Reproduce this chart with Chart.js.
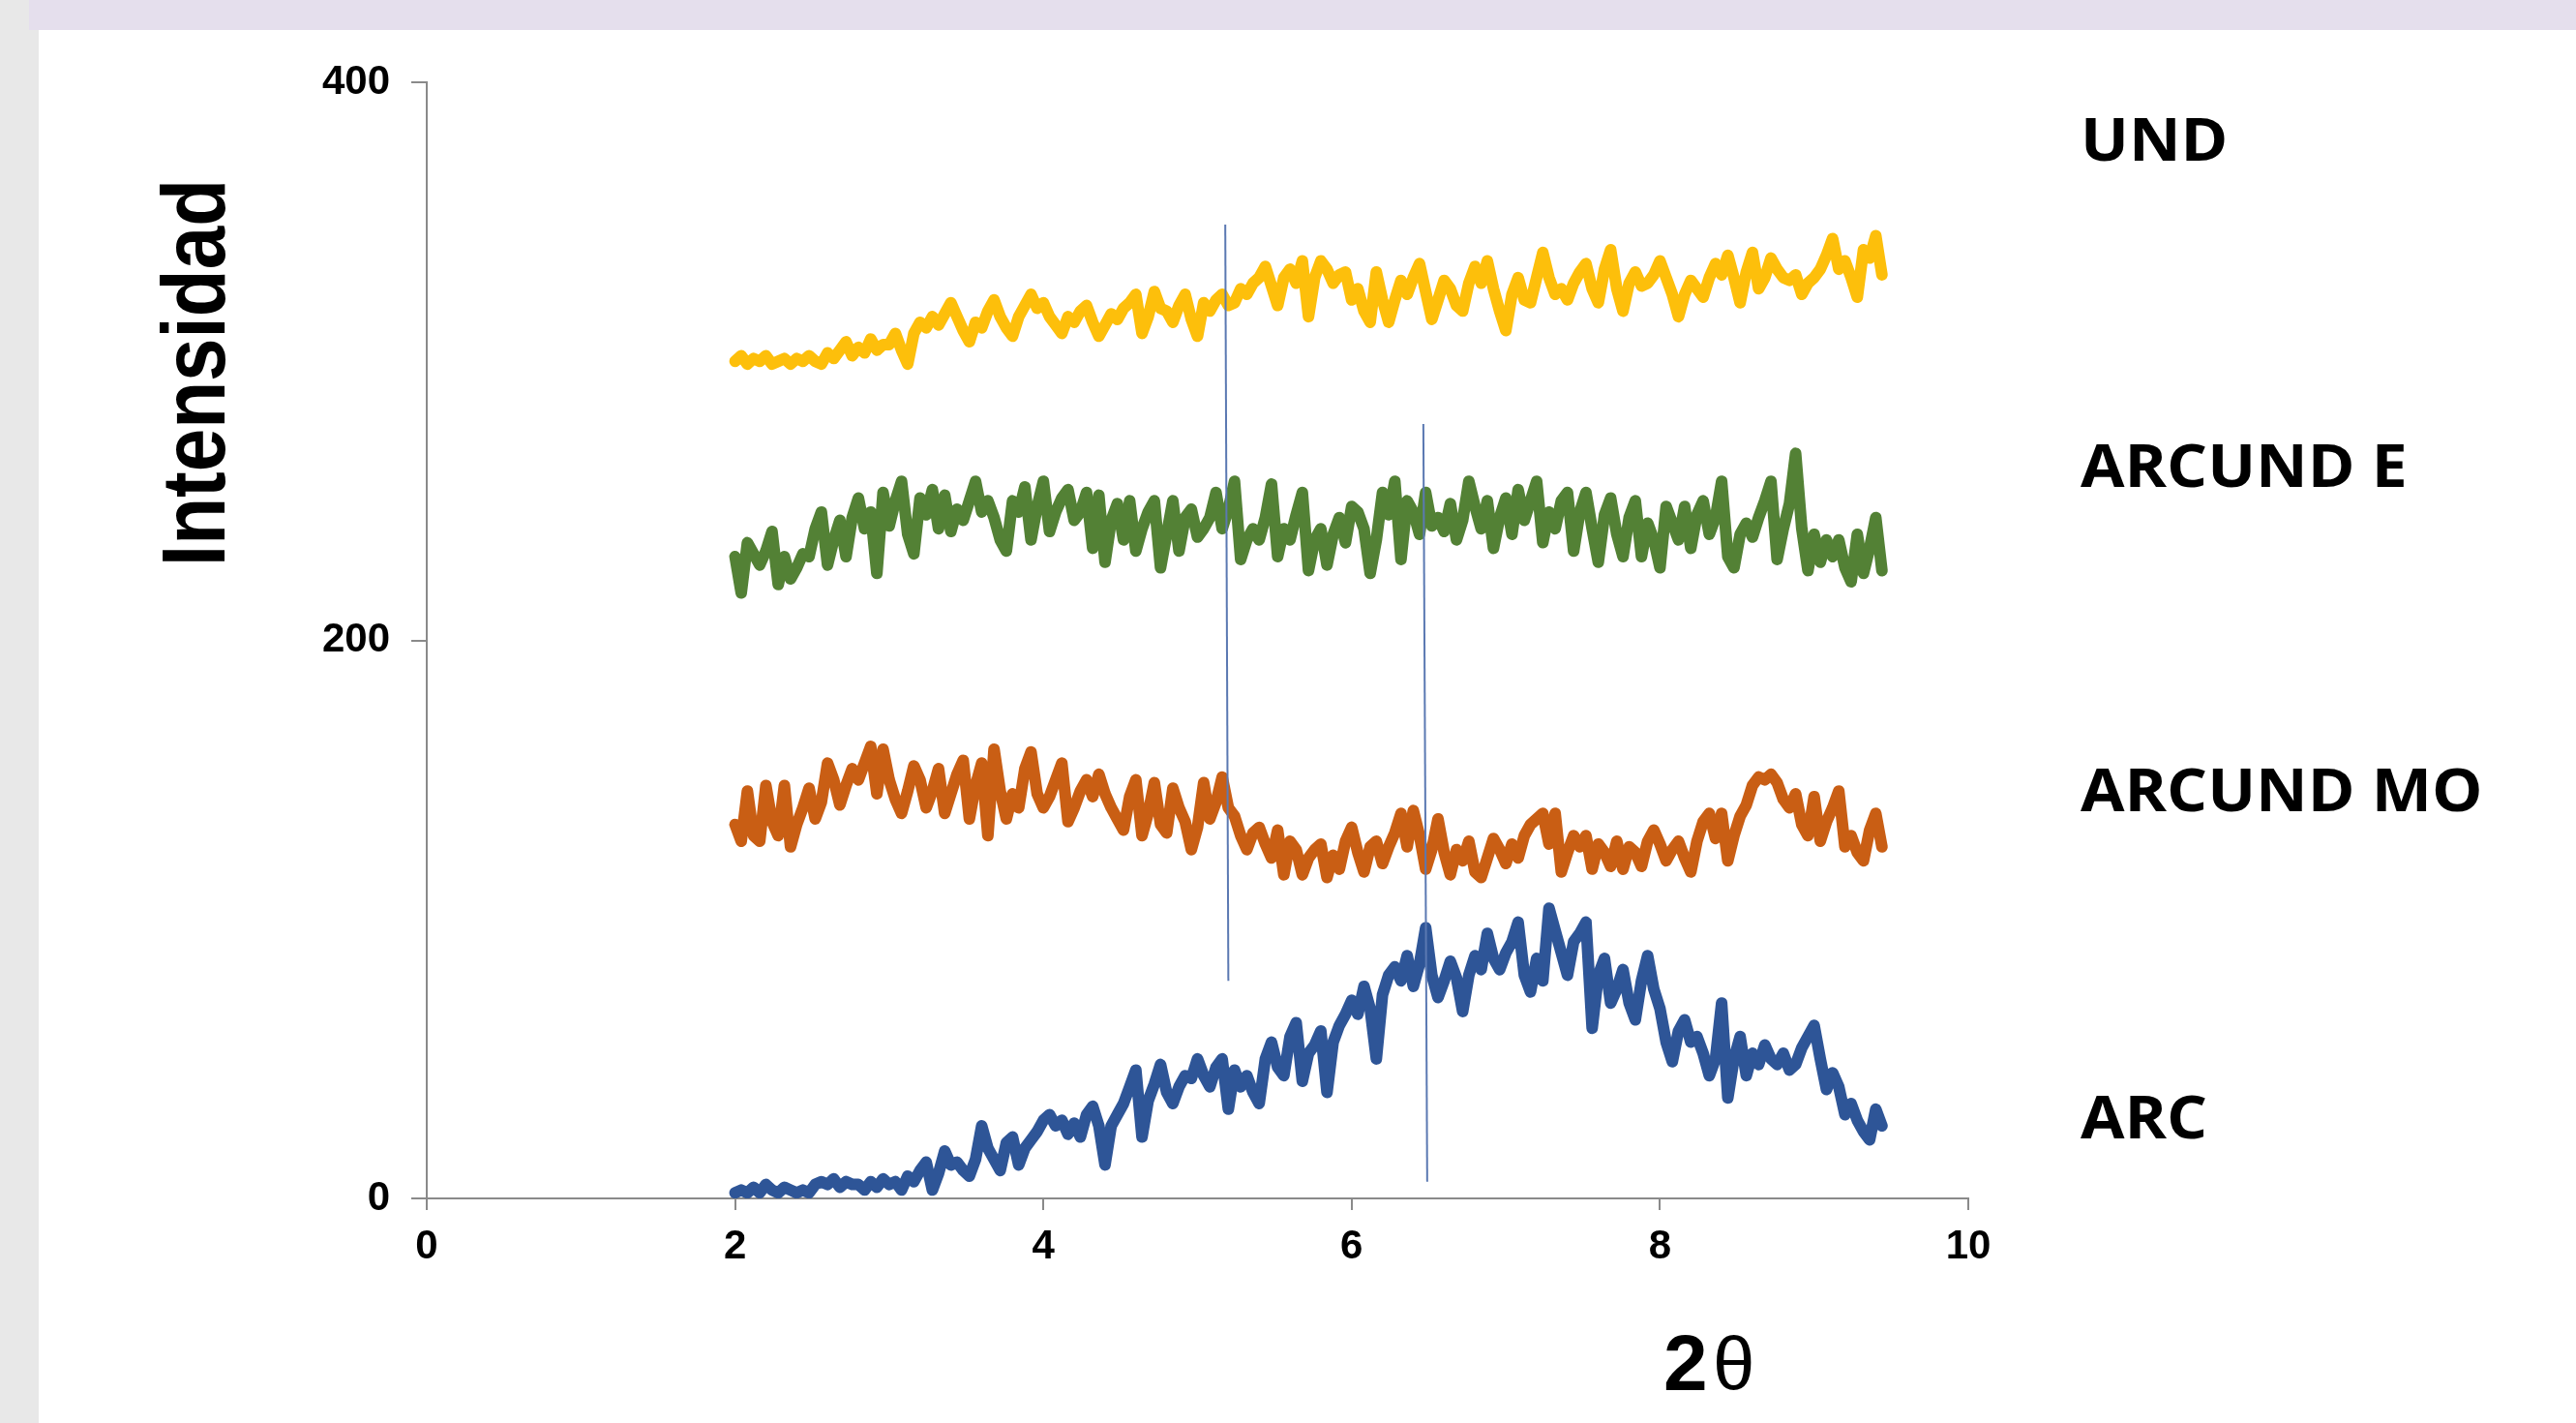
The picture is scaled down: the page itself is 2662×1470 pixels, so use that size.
<!DOCTYPE html>
<html>
<head>
<meta charset="utf-8">
<title>Intensidad vs 2θ</title>
<script src="https://cdn.jsdelivr.net/npm/chart.js@4.4.0/dist/chart.umd.min.js"></script>
<style>
html,body{margin:0;padding:0;width:2662px;height:1470px;overflow:hidden;background:#e8e8e8;}
#band{position:absolute;left:30px;top:0;width:2632px;height:31px;background:#e5dfed;}
#panel{position:absolute;left:40px;top:31px;width:2622px;height:1439px;background:#ffffff;}
#c{position:absolute;left:0;top:0;}
</style>
</head>
<body>
<div id="band"></div>
<div id="panel"></div>
<canvas id="c" width="2662" height="1470"></canvas>
<script>
// ---------- DATA ----------
const TWO_THETA = [
2.00,2.04,2.08,2.12,2.16,2.20,2.24,2.28,2.32,2.36,
2.40,2.44,2.48,2.52,2.56,2.60,2.64,2.68,2.72,2.76,
2.80,2.84,2.88,2.92,2.96,3.00,3.04,3.08,3.12,3.16,
3.20,3.24,3.28,3.32,3.36,3.40,3.44,3.48,3.52,3.56,
3.60,3.64,3.68,3.72,3.76,3.80,3.84,3.88,3.92,3.96,
4.00,4.04,4.08,4.12,4.16,4.20,4.24,4.28,4.32,4.36,
4.40,4.44,4.48,4.52,4.56,4.60,4.64,4.68,4.72,4.76,
4.80,4.84,4.88,4.92,4.96,5.00,5.04,5.08,5.12,5.16,
5.20,5.24,5.28,5.32,5.36,5.40,5.44,5.48,5.52,5.56,
5.60,5.64,5.68,5.72,5.76,5.80,5.84,5.88,5.92,5.96,
6.00,6.04,6.08,6.12,6.16,6.20,6.24,6.28,6.32,6.36,
6.40,6.44,6.48,6.52,6.56,6.60,6.64,6.68,6.72,6.76,
6.80,6.84,6.88,6.92,6.96,7.00,7.04,7.08,7.12,7.16,
7.20,7.24,7.28,7.32,7.36,7.40,7.44,7.48,7.52,7.56,
7.60,7.64,7.68,7.72,7.76,7.80,7.84,7.88,7.92,7.96,
8.00,8.04,8.08,8.12,8.16,8.20,8.24,8.28,8.32,8.36,
8.40,8.44,8.48,8.52,8.56,8.60,8.64,8.68,8.72,8.76,
8.80,8.84,8.88,8.92,8.96,9.00,9.04,9.08,9.12,9.16,
9.20,9.24,9.28,9.32,9.36,9.40,9.44];

const UND = [
300,302,299,301,300,302,299,300,301,299,
301,300,302,300,299,303,301,304,307,302,
305,303,308,304,306,306,310,304,299,310,
314,312,316,313,317,321,316,311,307,314,
312,318,322,316,312,309,316,320,324,319,
321,316,313,310,316,314,318,320,314,309,
313,317,315,319,321,324,310,316,325,319,
318,314,320,324,315,309,321,318,322,324,
320,321,326,324,328,330,334,327,320,330,
333,328,336,316,330,336,333,328,331,332,
322,326,318,314,332,322,314,322,329,324,
330,335,325,315,322,329,326,320,318,328,
334,328,336,326,318,311,324,330,322,321,
330,339,330,324,326,322,328,332,335,326,
321,333,340,326,318,328,332,327,328,331,
336,330,324,316,324,329,326,323,330,335,
331,338,330,321,332,339,326,330,337,333,
330,329,331,324,328,330,333,338,344,333,
336,330,323,340,337,345,331];

const ARCUND_E = [
230,217,235,231,227,232,239,220,230,222,
226,231,230,240,246,227,236,243,230,244,
251,240,246,224,253,241,250,257,238,231,
251,245,254,240,252,239,247,243,250,257,
246,250,244,236,232,250,246,255,236,248,
257,239,246,251,254,243,246,253,233,252,
228,243,249,236,250,232,240,246,250,226,
238,250,232,244,247,237,240,244,253,240,
247,257,229,236,240,236,244,256,230,240,
236,245,253,225,236,240,227,238,244,235,
248,246,240,224,236,253,245,257,229,250,
246,238,253,241,244,239,249,236,243,257,
248,240,250,233,244,251,238,254,243,250,
257,235,246,240,250,253,232,246,253,240,
228,245,251,238,230,244,250,230,242,236,
226,248,242,236,248,233,245,250,238,244,
257,230,226,238,242,237,244,250,257,229,
240,249,267,240,225,238,228,236,230,236,
226,221,238,224,233,244,225];

const ARCUND_MO = [
134,128,146,130,128,148,135,130,148,126,
134,140,147,136,142,156,150,141,148,154,
150,156,162,145,161,150,143,138,146,155,
150,140,146,154,138,145,152,157,136,148,
156,130,161,146,136,145,140,154,160,145,
140,144,150,156,135,140,146,150,144,152,
145,140,136,132,144,150,130,138,149,134,
131,147,140,135,125,133,149,136,142,151,
140,137,130,125,131,133,127,122,132,116,
128,125,116,122,125,127,115,123,118,128,
133,124,117,126,128,120,126,131,138,126,
139,130,118,125,136,124,116,125,121,128,
117,115,122,129,125,120,127,122,130,134,
136,138,127,138,117,124,130,126,130,118,
127,124,119,128,118,126,124,119,128,132,
127,121,125,128,122,117,128,135,138,129,
138,121,130,137,141,148,151,150,152,149,
143,140,145,134,130,144,128,135,140,146,
126,130,124,121,132,138,126];

const ARC = [
2,3,2,4,2,5,3,2,4,3,
2,3,2,5,6,5,7,4,6,5,
5,3,6,4,7,5,6,3,8,6,
10,13,3,9,17,12,13,10,8,14,
26,18,14,10,20,22,12,18,21,24,
28,30,26,28,23,27,22,30,33,26,
12,26,30,34,40,46,22,35,41,48,
38,34,40,44,43,50,44,40,47,50,
32,46,40,44,38,34,50,56,47,44,
58,63,42,52,55,60,38,56,62,66,
71,66,76,68,50,73,80,83,78,87,
76,84,97,80,72,78,85,79,67,80,
87,82,95,86,82,88,92,99,80,74,
86,78,104,96,88,80,92,95,99,61,
80,86,70,75,82,70,64,78,87,75,
68,56,49,60,64,56,58,52,44,50,
70,36,50,58,44,52,48,55,50,48,
52,46,48,54,58,62,50,39,45,40,
30,34,28,24,21,32,26];

// thin reference lines (2θ, intensity) – start and end points
const MARK1_X = [5.18, 5.20];
const MARK1_Y = [349, 78];
const MARK2_X = [6.465, 6.49];
const MARK2_Y = [277.5, 6];

const SERIES_NAMES = ['UND', 'ARCUND E', 'ARCUND MO', 'ARC'];
const X_TICKS = [0, 2, 4, 6, 8, 10];
const Y_TICKS = [0, 200, 400];
const Y_TITLE = 'Intensidad';
const X_TITLE = '2θ';

// ---------- STYLE ----------
const COLORS = ['#fdbf0b', '#538135', '#c95e14', '#2e5597'];
const LABEL_X = 2150;
const LABEL_BASELINES = [166, 503, 838, 1176];

function pts(xs, ys) { return xs.map((x, i) => ({x: x, y: ys[i]})); }

const seriesData = [UND, ARCUND_E, ARCUND_MO, ARC];

const markerStyle = {
  borderColor: '#5b79b2', borderWidth: 2, pointRadius: 0, tension: 0, fill: false
};

const datasets = [
  Object.assign({label: 'm1', data: pts(MARK1_X, MARK1_Y)}, markerStyle),
  Object.assign({label: 'm2', data: pts(MARK2_X, MARK2_Y)}, markerStyle)
].concat(seriesData.map((ys, i) => ({
  label: SERIES_NAMES[i],
  data: pts(TWO_THETA, ys),
  borderColor: COLORS[i],
  backgroundColor: COLORS[i],
  borderWidth: 12,
  pointRadius: 0,
  tension: 0,
  fill: false,
  borderJoinStyle: 'round',
  borderCapStyle: 'round'
})));

const annotPlugin = {
  id: 'annot',
  afterDatasetsDraw(chart) {
    const ctx = chart.ctx;
    ctx.save();
    ctx.fillStyle = '#000';
    // series names
    ctx.font = 'bold 60px "Open Sans"';
    ctx.textAlign = 'left';
    ctx.textBaseline = 'alphabetic';
    SERIES_NAMES.forEach((name, i) => {
      ctx.save();
      ctx.translate(LABEL_X, LABEL_BASELINES[i]);
      ctx.scale(1.1, 1);
      ctx.fillText(name, 0, 0);
      ctx.restore();
    });
    // y title
    ctx.save();
    ctx.translate(232, 385);
    ctx.rotate(-Math.PI / 2);
    ctx.scale(1, 1.15);
    ctx.font = 'bold 80px "Liberation Sans"';
    ctx.textAlign = 'center';
    ctx.fillText(Y_TITLE, 0, 0);
    ctx.restore();
    // x title: "2" bold, "θ" regular
    ctx.textAlign = 'left';
    ctx.font = 'bold 82px "Liberation Sans"';
    ctx.fillText(X_TITLE.charAt(0), 1719, 1436);
    ctx.font = '500 78px "Liberation Sans"';
    ctx.fillText(X_TITLE.slice(1), 1770, 1436);
    ctx.restore();
  }
};

const tickFont = {family: 'Liberation Sans', size: 42, weight: 'bold'};
const axisGrey = '#8a8a8a';

new Chart(document.getElementById('c'), {
  type: 'line',
  data: {datasets: datasets},
  options: {
    responsive: false,
    animation: false,
    devicePixelRatio: 1,
    layout: {padding: {left: 241, right: 628, top: 85, bottom: 132}},
    plugins: {legend: {display: false}, tooltip: {enabled: false}},
    scales: {
      x: {
        type: 'linear', min: 0, max: 10,
        afterBuildTicks(s) { s.ticks = X_TICKS.map(v => ({value: v})); },
        ticks: {font: tickFont, color: '#000', padding: 13, maxRotation: 0},
        grid: {drawOnChartArea: false, drawTicks: true, tickLength: 12, color: axisGrey, lineWidth: 2},
        border: {display: true, color: axisGrey, width: 2},
        afterFit(s) { s.height = 100; }
      },
      y: {
        type: 'linear', min: 0, max: 400,
        afterBuildTicks(s) { s.ticks = Y_TICKS.map(v => ({value: v})); },
        ticks: {font: tickFont, color: '#000', padding: 22},
        grid: {drawOnChartArea: false, drawTicks: true, tickLength: 16, color: axisGrey, lineWidth: 2},
        border: {display: true, color: axisGrey, width: 2},
        afterFit(s) { s.width = 200; }
      }
    }
  },
  plugins: [annotPlugin]
});
</script>
</body>
</html>
